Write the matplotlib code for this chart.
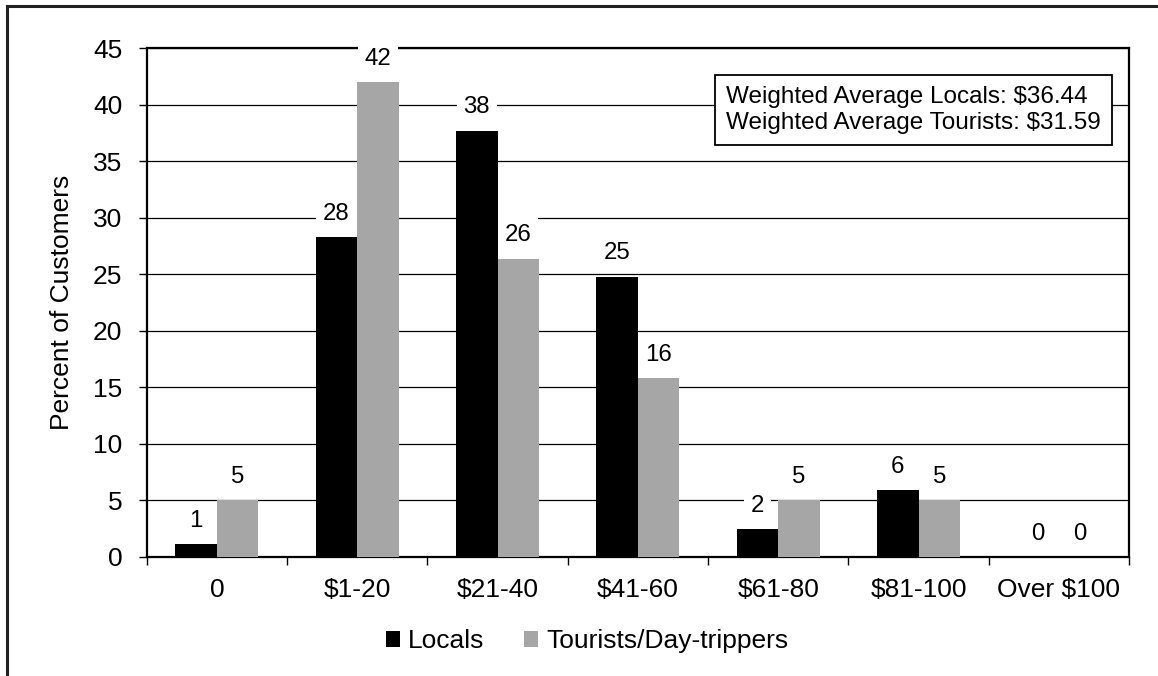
import matplotlib
matplotlib.use("Agg")
import matplotlib.pyplot as plt
import numpy as np
from matplotlib.patches import Patch
from matplotlib.lines import Line2D

plt.rcParams['font.family'] = ['Liberation Sans', 'DejaVu Sans']

categories = ["0", "$1-20", "$21-40", "$41-60", "$61-80", "$81-100", "Over $100"]
locals_pct = [1.15, 28.3, 37.7, 24.8, 2.45, 5.9, 0.0]
tourists_pct = [5.05, 42.0, 26.4, 15.8, 5.05, 5.05, 0.0]
series_names = ["Locals", "Tourists/Day-trippers"]
y_ticks = [0, 5, 10, 15, 20, 25, 30, 35, 40, 45]
note_lines = ["Weighted Average Locals: $36.44", "Weighted Average Tourists: $31.59"]

W, H = 1158, 676
fig = plt.figure(figsize=(W / 100, H / 100), dpi=100)
ax = fig.add_axes([146.7 / W, 1 - 557 / H, (1129 - 146.7) / W, (557 - 48.3) / H])

fs_lab = 17.3
fs_ax = 19
x = np.arange(len(categories))
w = 0.295
c_loc, c_tou = "#000000", "#a6a6a6"
b1 = ax.bar(x - w / 2, locals_pct, w, color=c_loc, zorder=3)
b2 = ax.bar(x + w / 2, tourists_pct, w, color=c_tou, zorder=3)

for bars, vals in ((b1, locals_pct), (b2, tourists_pct)):
    for rect, v in zip(bars, vals):
        ax.annotate(f"{v:.0f}", (rect.get_x() + rect.get_width() / 2, v),
                    xytext=(0, 12.5), textcoords="offset points",
                    ha="center", va="baseline", fontsize=fs_lab, zorder=5,
                    bbox=dict(boxstyle="square,pad=0.28", fc="white", ec="none"))

ax.set_xlim(-0.5, len(categories) - 0.5)
ax.set_ylim(0, 45)
ax.set_yticks(y_ticks)
ax.yaxis.grid(True, color="#000000", linewidth=0.9, zorder=0)
ax.set_axisbelow(True)
ax.tick_params(axis="y", labelsize=fs_ax, length=5.5, width=1.0, pad=12, direction="out")
ax.set_xticks(x)
ax.set_xticklabels(categories)
ax.set_xticks(np.arange(-0.5, len(categories), 1.0), minor=True)
ax.tick_params(axis="x", which="major", length=0, labelsize=fs_ax, pad=15)
ax.tick_params(axis="x", which="minor", length=6, width=1.0, direction="out")
for s in ax.spines.values():
    s.set_linewidth(1.6)
    s.set_color("black")

ax.set_ylabel("Percent of Customers", fontsize=fs_ax, labelpad=14)

fig.text(726 / W, 1 - 110 / H, "\n".join(note_lines), fontsize=17.5, ha="left", va="center",
         linespacing=1.28, zorder=10,
         bbox=dict(boxstyle="square,pad=0.45", fc="white", ec="black", lw=1.3))

handles = [Patch(facecolor=c_loc, edgecolor="none"), Patch(facecolor=c_tou, edgecolor="none")]
fig.legend(handles, series_names, loc="center", bbox_to_anchor=(587 / W, 1 - 641 / H),
           ncol=2, frameon=False, fontsize=fs_ax, handlelength=0.55, handleheight=0.55,
           handletextpad=0.3, columnspacing=1.5)

# outer frame (left and top edges)
fig.add_artist(Line2D([7 / W, 7 / W], [0, 1 - 6 / H], transform=fig.transFigure, color="#222222", lw=2.2))
fig.add_artist(Line2D([7 / W, 1], [1 - 6 / H, 1 - 6 / H], transform=fig.transFigure, color="#222222", lw=2.2))

fig.savefig("out.png", dpi=100)
